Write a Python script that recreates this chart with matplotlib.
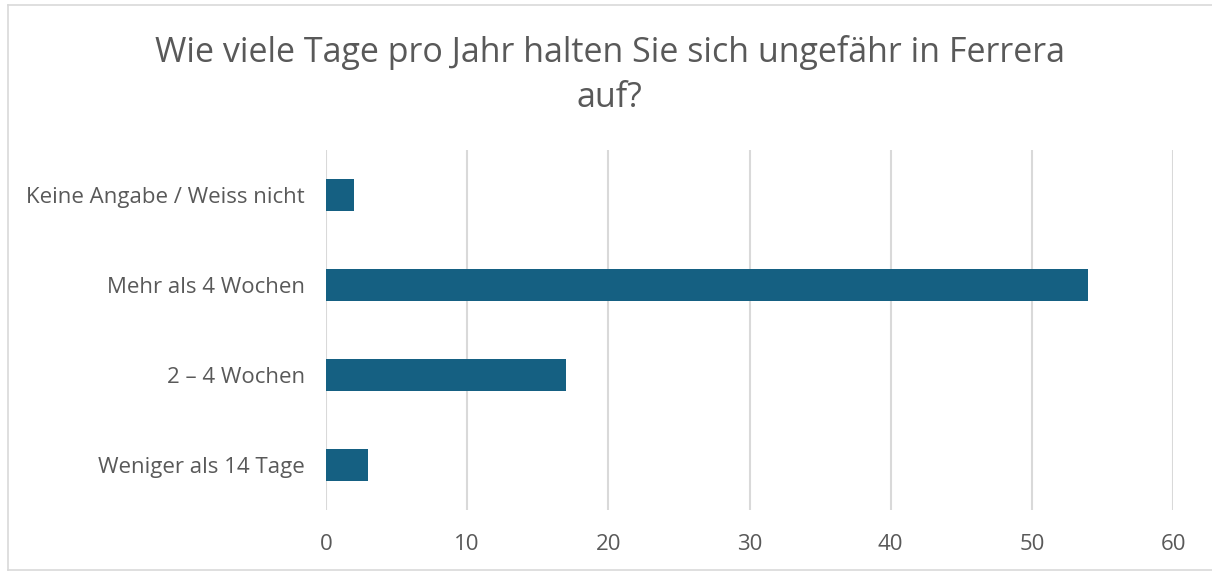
import matplotlib.pyplot as plt
from matplotlib.lines import Line2D

categories = ["Weniger als 14 Tage", "2 – 4 Wochen", "Mehr als 4 Wochen", "Keine Angabe / Weiss nicht"]
values = [3, 17, 54, 2]
xticks = [0, 10, 20, 30, 40, 50, 60]
title = "Wie viele Tage pro Jahr halten Sie sich ungefähr in Ferrera\nauf?"

bar_color = "#156082"
text_color = "#595959"
grid_color = "#D9D9D9"

plt.rcParams["font.family"] = ["Open Sans", "DejaVu Sans"]

fig = plt.figure(figsize=(12.12, 5.71), dpi=100)
ax = fig.add_axes([326 / 1212, 1 - 510 / 571, 847 / 1212, 360 / 571])

# chart frame: left, top and bottom edges only (right edge runs off the picture)
x0, y0, y1 = 8 / 1212, 1.5 / 571, 1 - 5 / 571
for xs, ys in [([x0, x0], [y0, y1]), ([x0, 1], [y1, y1]), ([x0, 1], [y0, y0])]:
    fig.add_artist(Line2D(xs, ys, transform=fig.transFigure, color=grid_color, linewidth=1.2))

ypos = range(len(categories))
ax.barh(ypos, values, height=0.355, color=bar_color, zorder=3)

ax.set_xlim(0, 60)
ax.set_ylim(-0.5, len(categories) - 0.5)
ax.set_xticks(xticks)
ax.set_yticks(list(ypos))
ax.set_yticklabels(categories)
ax.tick_params(axis="both", length=0, labelsize=16, colors=text_color)
ax.tick_params(axis="y", pad=15)
ax.tick_params(axis="x", pad=17)
ax.grid(axis="x", color=grid_color, linewidth=1.5, zorder=0)
for s in ax.spines.values():
    s.set_visible(False)

fig.text(0.503, 1 - 75 / 571, title, ha="center", va="center", fontsize=24.5,
         color=text_color, linespacing=1.4)

fig.savefig("out.png", dpi=100, facecolor="white")
